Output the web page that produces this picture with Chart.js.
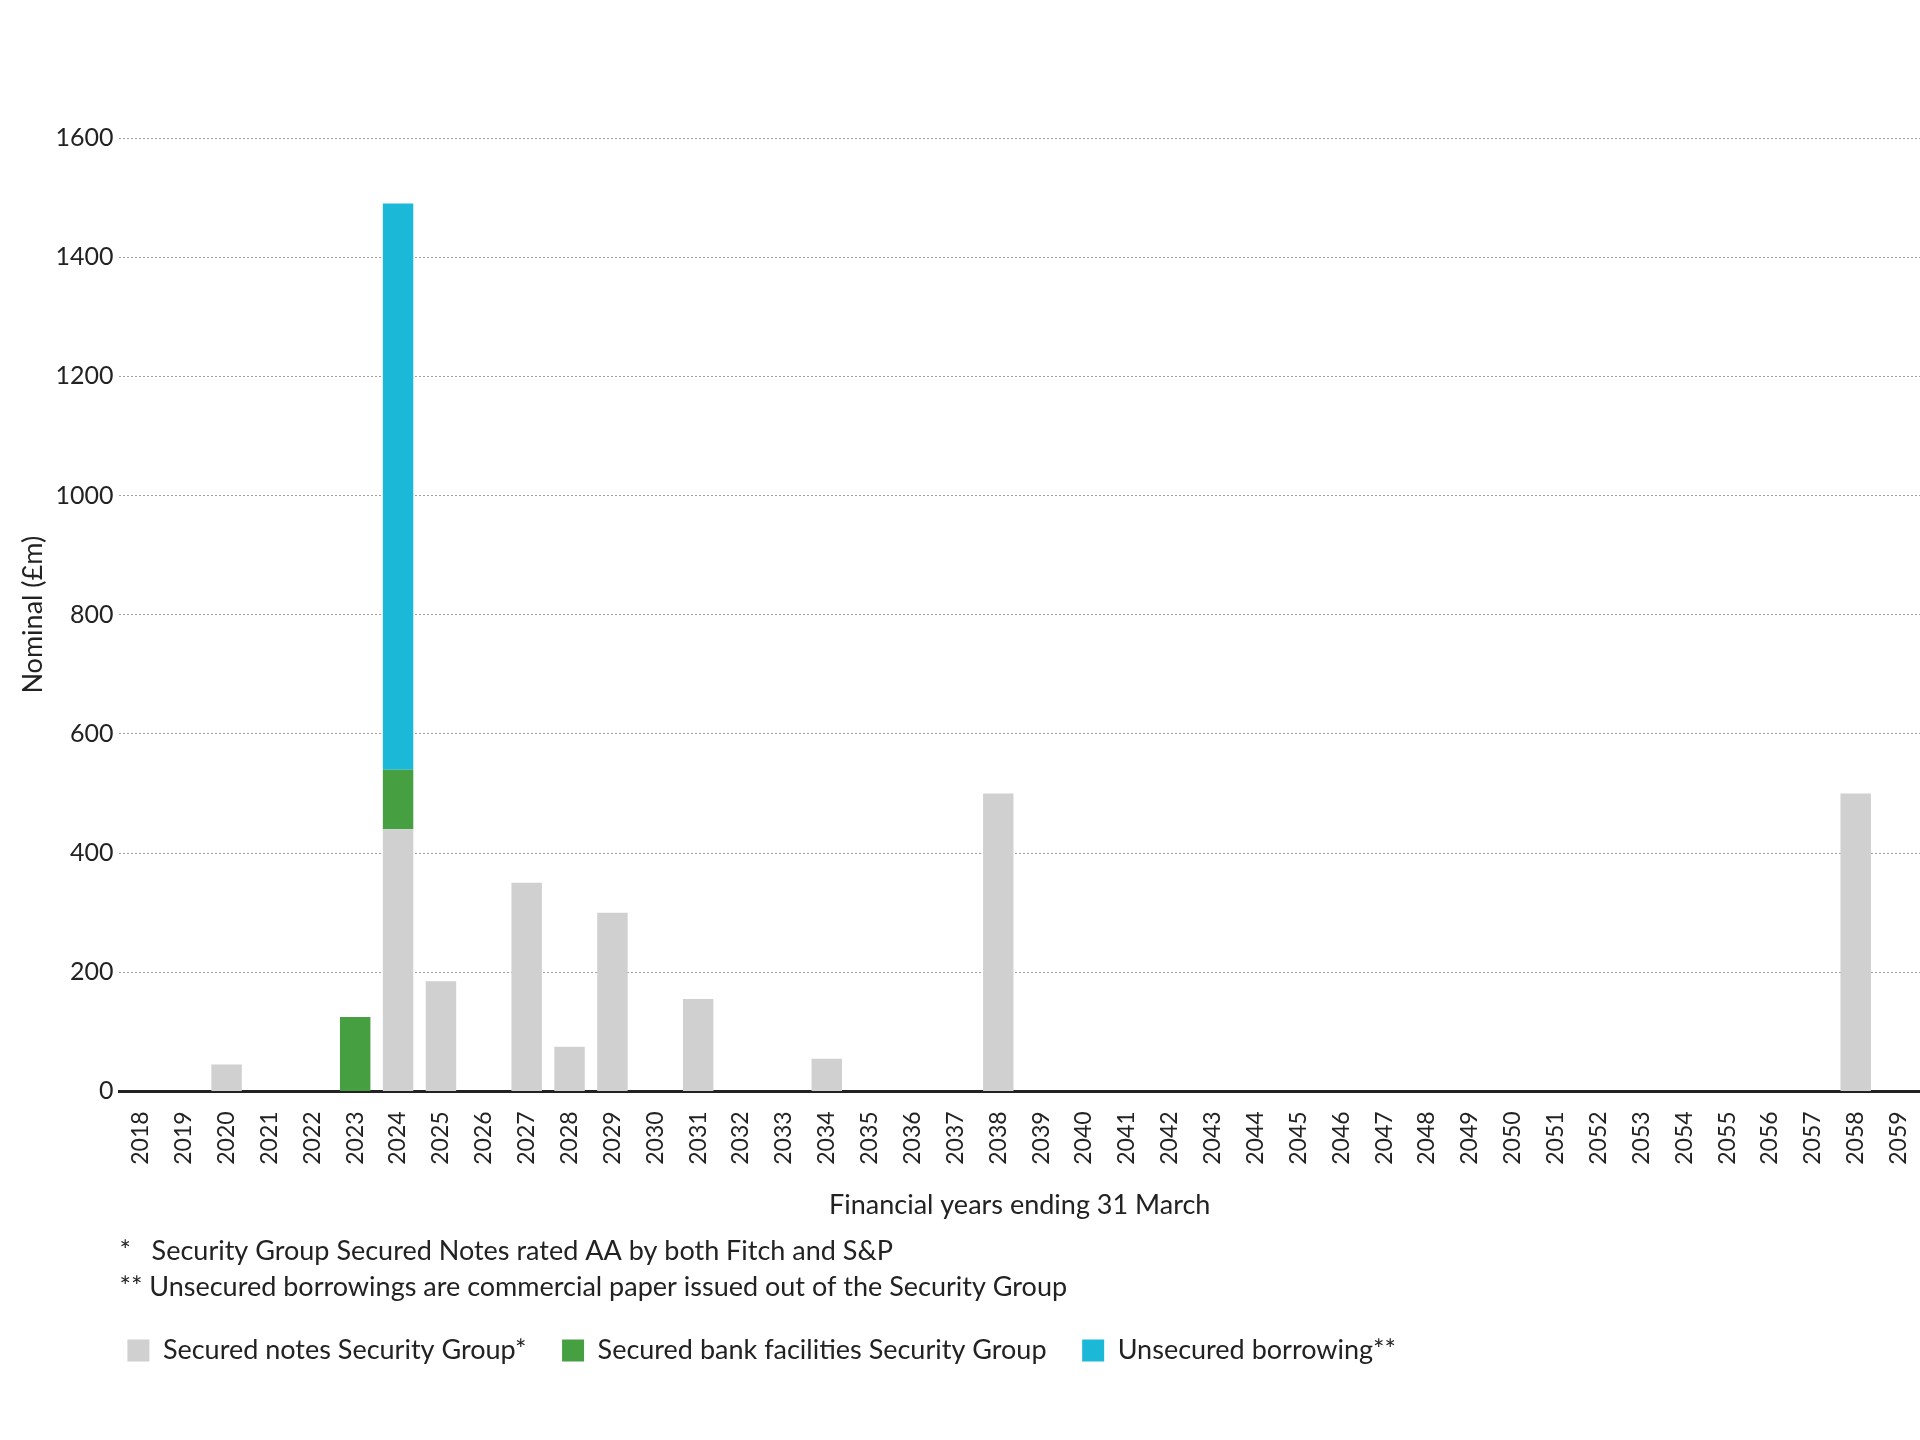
<!DOCTYPE html>
<html>
<head>
<meta charset="utf-8">
<script src="https://cdn.jsdelivr.net/npm/chart.js@4/dist/chart.umd.min.js"></script>
<style>
  html, body { margin: 0; padding: 0; background: #fff; }
  #wrap { width: 1920px; height: 1440px; }
</style>
</head>
<body>
<div id="wrap"><canvas id="chart" width="1920" height="1440"></canvas></div>
<script>
const years = [
  '2018', '2019', '2020', '2021', '2022', '2023', '2024', '2025', '2026', '2027',
  '2028', '2029', '2030', '2031', '2032', '2033', '2034', '2035', '2036', '2037',
  '2038', '2039', '2040', '2041', '2042', '2043', '2044', '2045', '2046', '2047',
  '2048', '2049', '2050', '2051', '2052', '2053', '2054', '2055', '2056', '2057',
  '2058', '2059'
];

// nominal £m per financial year
const securedNotes = [
  0, 0, 45, 0, 0, 0, 440, 185, 0, 350,
  75, 300, 0, 155, 0, 0, 55, 0, 0, 0,
  500, 0, 0, 0, 0, 0, 0, 0, 0, 0,
  0, 0, 0, 0, 0, 0, 0, 0, 0, 0,
  500, 0
];
const bankFacilities = [
  0, 0, 0, 0, 0, 125, 100, 0, 0, 0,
  0, 0, 0, 0, 0, 0, 0, 0, 0, 0,
  0, 0, 0, 0, 0, 0, 0, 0, 0, 0,
  0, 0, 0, 0, 0, 0, 0, 0, 0, 0,
  0, 0
];
const unsecured = [
  0, 0, 0, 0, 0, 0, 950, 0, 0, 0,
  0, 0, 0, 0, 0, 0, 0, 0, 0, 0,
  0, 0, 0, 0, 0, 0, 0, 0, 0, 0,
  0, 0, 0, 0, 0, 0, 0, 0, 0, 0,
  0, 0
];

const seriesNames = ['Secured notes Security Group*', 'Secured bank facilities Security Group', 'Unsecured borrowing**'];
const yTicks = [0, 200, 400, 600, 800, 1000, 1200, 1400, 1600];
const footnotes = [
  '*   Security Group Secured Notes rated AA by both Fitch and S&P',
  '** Unsecured borrowings are commercial paper issued out of the Security Group'
];

const colors = ['#d0d0d0', '#46a041', '#1cb8d8'];
const font = 'Lato, "Open Sans", sans-serif';
const textColor = '#222';

Chart.defaults.font.family = font;
Chart.defaults.color = textColor;

new Chart(document.getElementById('chart'), {
  type: 'bar',
  data: {
    labels: years,
    datasets: [securedNotes, bankFacilities, unsecured].map((values, i) => ({
      label: seriesNames[i],
      data: values,
      backgroundColor: colors[i],
      borderWidth: 0,
      categoryPercentage: 1,
      barPercentage: 0.71
    }))
  },
  options: {
    responsive: false,
    animation: false,
    devicePixelRatio: 1,
    layout: { padding: { top: 138, bottom: 66, left: 0, right: 0 } },
    plugins: {
      tooltip: { enabled: false },
      legend: {
        position: 'bottom',
        align: 'start',
        fullSize: false,
        weight: 1000,
        labels: {
          boxWidth: 22,
          boxHeight: 22,
          padding: 8,
          color: textColor,
          font: { size: 27 },
          generateLabels: chart => Chart.defaults.plugins.legend.labels.generateLabels(chart)
            .map(item => ({ ...item, text: item.text + '    ' }))
        }
      },
      subtitle: {
        display: true,
        text: footnotes,
        position: 'bottom',
        align: 'start',
        fullSize: false,
        weight: 500,
        color: textColor,
        font: { size: 27, weight: 'normal', lineHeight: 1.33 },
        padding: { top: 4, bottom: 24 }
      }
    },
    scales: {
      x: {
        stacked: true,
        grid: { display: false },
        border: { display: true, color: '#222', width: 3 },
        ticks: { minRotation: 90, maxRotation: 90, autoSkip: false, padding: 12, font: { size: 23 }, color: textColor },
        title: { display: true, text: 'Financial years ending 31 March', font: { size: 27 }, color: textColor, padding: { top: 12, bottom: 8 } },
        afterFit: axis => { axis.paddingLeft = 0; axis.paddingRight = 0; }
      },
      y: {
        stacked: true,
        min: 0,
        max: 1600,
        afterBuildTicks: axis => { axis.ticks = yTicks.map(v => ({ value: v })); },
        grid: { color: '#a0a0a0', lineWidth: 1, drawTicks: false },
        border: { display: false, dash: [2, 2] },
        ticks: { padding: 6, font: { size: 25 }, color: textColor, format: { useGrouping: false } },
        title: { display: true, text: 'Nominal (£m)', font: { size: 27 }, color: textColor, padding: { top: 17, bottom: 0 } }
      }
    }
  }
});
</script>
</body>
</html>
